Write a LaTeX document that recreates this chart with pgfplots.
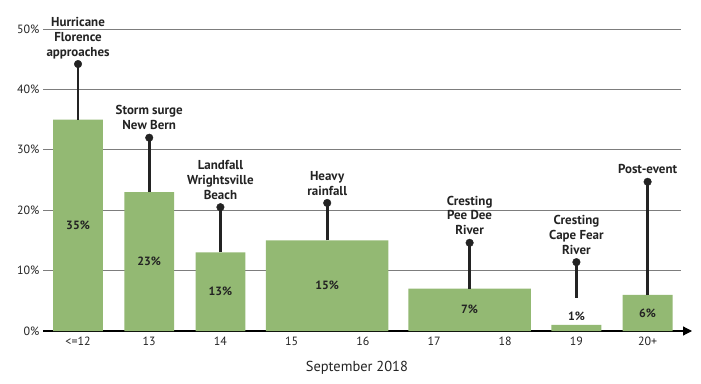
\documentclass[border=0pt]{standalone}
\usepackage{fontspec}
\setmainfont{PT Sans}
\usepackage{pgfplots}
\pgfplotsset{compat=1.18}
\usetikzlibrary{arrows.meta}
\definecolor{barg}{RGB}{147,185,115}
\definecolor{gridg}{RGB}{125,125,125}
\definecolor{txt}{RGB}{35,35,35}
\begin{document}
\begin{tikzpicture}
\begin{axis}[
  scale only axis, width=638bp, height=302bp,
  xmin=11.508, xmax=20.469, ymin=0, ymax=50,
  axis x line=bottom, axis y line=left,
  x axis line style={line width=1.2bp, -{Triangle[length=9bp,width=9bp]}, shorten >=-11bp},
  y axis line style={draw=none},
  xtick={12,...,20}, xticklabels={<=12,13,14,15,16,17,18,19,20+},
  ytick={0,10,...,50}, yticklabel={\pgfmathprintnumber{\tick}\%},
  major tick length=0pt,
  ymajorgrids, grid style={gridg, line width=0.8bp},
  tick label style={font=\fontsize{12}{13}\selectfont, text=txt},
  xticklabel style={yshift=-2.5bp},
  /pgf/number format/assume math mode=true,
  clip=false,
]
\coordinate (O) at (rel axis cs:0,0);
\addplot[ybar, bar shift=0pt, bar width=0.7, fill=barg, draw=none] coordinates {(12,35)(13,23)(14,13)(19,1)(20,6)};
\addplot[ybar, bar shift=0pt, bar width=1.72, fill=barg, draw=none] coordinates {(15.5,15)(17.5,7)};
% stems
\addplot[txt, line width=2.6bp] coordinates {(12,35)(12,44.2)};
\addplot[txt, line width=2.6bp] coordinates {(13,23)(13,32)};
\addplot[txt, line width=2.6bp] coordinates {(14,13)(14,20.5)};
\addplot[txt, line width=2.6bp] coordinates {(15.5,15)(15.5,21.2)};
\addplot[txt, line width=2.6bp] coordinates {(17.5,7)(17.5,14.6)};
\addplot[txt, line width=2.6bp] coordinates {(19,5.5)(19,11.4)};
\addplot[txt, line width=2.6bp] coordinates {(20,6)(20,24.7)};
\addplot[only marks, mark=*, mark size=3.8bp, txt] coordinates {(12,44.2)(13,32)(14,20.5)(15.5,21.2)(17.5,14.6)(19,11.4)(20,24.7)};
% event labels
\tikzset{ev/.style={anchor=south, text depth=0pt, inner sep=0pt, yshift=7.7bp, align=center, text=txt, font=\bfseries\fontsize{13}{15}\selectfont}}
\node[ev] at (axis cs:12,44.2) {Hurricane\\Florence\\approaches};
\node[ev] at (axis cs:13,32) {Storm surge\\New Bern};
\node[ev] at (axis cs:14,20.5) {Landfall\\Wrightsville\\Beach};
\node[ev] at (axis cs:15.5,21.2) {Heavy\\rainfall};
\node[ev] at (axis cs:17.5,14.6) {Cresting\\Pee Dee\\River};
\node[ev] at (axis cs:19,11.4) {Cresting\\Cape Fear\\River};
\node[ev] at (axis cs:20,24.7) {Post-event};
% value labels
\tikzset{vl/.style={text=txt, inner sep=0pt, font=\bfseries\fontsize{12}{13}\selectfont}}
\node[vl] at (axis cs:12,17.5) {35\%};
\node[vl] at (axis cs:13,11.5) {23\%};
\node[vl] at (axis cs:14,6.5) {13\%};
\node[vl] at (axis cs:15.5,7.5) {15\%};
\node[vl] at (axis cs:17.5,3.6) {7\%};
\node[vl] at (axis cs:19,2.4) {1\%};
\node[vl] at (axis cs:20,3) {6\%};
\node[text=txt, font=\fontsize{14.5}{15}\selectfont] at ([yshift=-37bp]rel axis cs:0.492,0) {September 2018};
\end{axis}
\pgfresetboundingbox
\path (O) ++(-43bp,-53bp) rectangle ++(701bp,384bp);
\end{tikzpicture}
\end{document}
